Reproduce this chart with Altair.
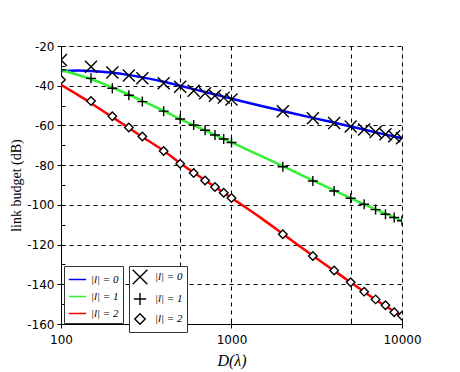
import altair as alt
import pandas as pd

# ---- data ----
D_markers = [100, 150, 200, 250, 300, 400, 500, 600, 700, 800, 900, 1000,
             2000, 3000, 4000, 5000, 6000, 7000, 8000, 9000, 10000]
mk_l0 = [-27, -30.4, -33.3, -34.8, -36.3, -38.8, -40.5, -42.5, -43.8, -45, -46, -47,
         -52.8, -56.4, -58.8, -60.5, -62, -63.3, -64.5, -65.5, -66.5]
mk_l1 = [-32, -36.3, -41.3, -44.8, -48, -52.8, -56.8, -59.8, -62.4, -64.8, -66.8, -68.6,
         -80.8, -88, -93, -96.7, -99.7, -102.4, -104.7, -106.4, -108]
mk_l2 = [-37, -47.7, -55.4, -61, -65.6, -72.9, -79.3, -83.9, -87.7, -91, -93.9, -96.5,
         -114.8, -125.7, -133.1, -139, -143.7, -147.6, -150.6, -154.1, -155.8]

D_line = [100, 125, 150, 200, 300, 400, 500, 700, 1000, 1500, 2000, 3000, 5000, 7000, 10000]
ln_l0 = [-32.6, -32.3, -32.6, -33.5, -35.8, -38, -40, -43.2, -46.5, -50.2, -52.7, -56.2, -60.5, -63.5, -66.5]
ln_l1 = [-32, -34.5, -36.6, -40.9, -47.6, -52.6, -56.8, -62.5, -68.5, -75.5, -80.5, -87.7, -96.6, -102.3, -108]
ln_l2 = [-39.5, -44.5, -48.8, -55.8, -65.8, -72.8, -79.0, -87.6, -96.5, -106.8, -114.6, -125.6, -139, -147.8, -156]

line_labels = ["|l| = 0", "|l| = 1", "|l| = 2"]
marker_labels = ["|l| = 0 ", "|l| = 1 ", "|l| = 2 "]
line_colors = ["#0000ff", "#33ee33", "#ff0000"]
marker_shapes = ["M-1.2,-1.2L1.2,1.2M-1.2,1.2L1.2,-1.2",
                 "M-1,0L1,0M0,-1L0,1",
                 "M0,-0.85L0.85,0L0,0.85L-0.85,0Z"]

x_ticks = [100, 500, 1000, 5000, 10000]
y_ticks = list(range(-160, -10, 10))

lines_df = pd.concat([
    pd.DataFrame({"D": D_line, "v": vals, "line": lab})
    for vals, lab in zip([ln_l0, ln_l1, ln_l2], line_labels)
])
marks_df = pd.concat([
    pd.DataFrame({"D": D_markers, "v": vals, "marker": lab})
    for vals, lab in zip([mk_l0, mk_l1, mk_l2], marker_labels)
])

W, H = 341, 278
xscale = alt.Scale(type="log", domain=[100, 10000], nice=False)
yscale = alt.Scale(domain=[-160, -20], nice=False, zero=False)

x_is_major = "datum.value == 100 || datum.value == 1000 || datum.value == 10000"
y_is_major = "datum.value % 20 == 0"

x_bottom = alt.Axis(
    values=x_ticks, title="D(λ)", titleFont="Liberation Serif", titleFontStyle="italic",
    titleFontSize=16, titleFontWeight="normal", titlePadding=7,
    labelExpr=f"({x_is_major}) ? ('' + datum.value) : ''", labelFlush=False,
    labelFont="DejaVu Sans", labelFontSize=12, labelColor="black", labelPadding=6,
    tickSize=4, tickColor="black", domainColor="black",
    tickOpacity={"condition": {"test": x_is_major, "value": 1}, "value": 0},
    grid=True, gridDash=[4, 4], gridColor="black", gridOpacity=1, gridWidth=1,
)
x_top = alt.Axis(
    orient="top", offset=-H, values=x_ticks, title=None, labels=False, domain=False,
    grid=False, tickSize=4, tickColor="black",
)
y_left = alt.Axis(
    values=y_ticks, title="link budget (dB)", titleFont="Liberation Serif",
    titleFontSize=14, titleFontWeight="normal", titleX=-38, titleY=H / 2,
    labelExpr=f"({y_is_major}) ? ('' + datum.value) : ''",
    labelFont="DejaVu Sans", labelFontSize=12, labelColor="black", labelPadding=3,
    tickSize=4, tickColor="black", domainColor="black",
    tickOpacity={"condition": {"test": y_is_major, "value": 1}, "value": 0},
    grid=True, gridDash=[4, 4], gridColor="black", gridWidth=1,
    gridOpacity={"condition": {"test": y_is_major, "value": 1}, "value": 0},
)
y_right = alt.Axis(
    orient="right", offset=-W, values=y_ticks, title=None, labels=False, domain=False,
    grid=False, tickSize=4, tickColor="black",
)

legend_common = dict(
    orient="none", title=None, strokeColor="#333", padding=4, fillColor="white",
    labelFont="Liberation Serif", labelFontStyle="italic", labelFontSize=11,
    labelColor="black", rowPadding=2, legendY=220,
)

lines = alt.Chart(lines_df).mark_line(clip=True, strokeWidth=2.5, interpolate="monotone").encode(
    x=alt.X("D:Q", scale=xscale, axis=x_bottom),
    y=alt.Y("v:Q", scale=yscale, axis=y_left),
    color=alt.Color("line:N", scale=alt.Scale(domain=line_labels, range=line_colors),
                    legend=alt.Legend(legendX=3, symbolType="stroke", symbolStrokeWidth=1.5,
                                      symbolSize=300, **legend_common)),
)

points = alt.Chart(marks_df).mark_point(
    clip=True, size=100, filled=True, fill="white", stroke="black", strokeWidth=1.4,
    opacity=1, fillOpacity=1, strokeOpacity=1,
).encode(
    x=alt.X("D:Q", scale=xscale, axis=x_top),
    y=alt.Y("v:Q", scale=yscale, axis=y_right),
    shape=alt.Shape("marker:N", scale=alt.Scale(domain=marker_labels, range=marker_shapes),
                    legend=alt.Legend(legendX=68, symbolSize=150, symbolStrokeWidth=1.4,
                                      labelOffset=8, **legend_common)),
)

chart = alt.layer(lines, points).resolve_axis(x="independent", y="independent").properties(
    width=W, height=H,
    autosize=alt.AutoSizeParams(type="none"),
    padding={"left": 53, "top": 38, "right": 20, "bottom": 50},
).configure_view(stroke=None).configure(background="white")

chart.save("out.html", embed_options={"renderer": "svg", "actions": False})
